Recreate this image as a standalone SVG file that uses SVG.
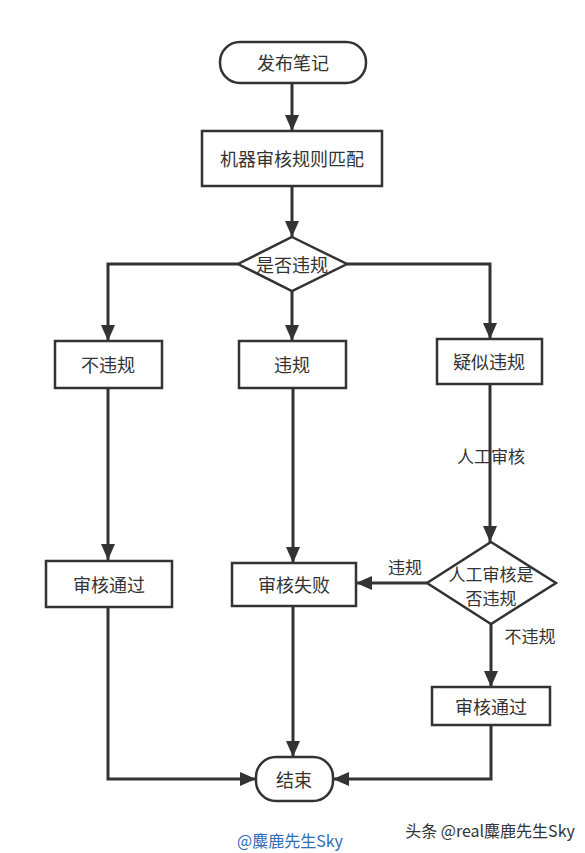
<svg xmlns="http://www.w3.org/2000/svg" width="585" height="853" viewBox="0 0 585 853">
<style>
.n{fill:#fff;stroke:#333;stroke-width:2.5}
.t{font-family:"Noto Sans CJK SC","Noto Sans",sans-serif;font-size:18px;fill:#333;text-anchor:middle;dominant-baseline:central}
.l{font-family:"Noto Sans CJK SC","Noto Sans",sans-serif;font-size:17px;fill:#333;text-anchor:middle;dominant-baseline:central}
.c{fill:none;stroke:#333;stroke-width:3}
</style>
<defs>
<marker id="a" markerUnits="userSpaceOnUse" markerWidth="16" markerHeight="14" viewBox="0 0 16 14" refX="16" refY="7" orient="auto">
<path d="M0,0 L16,7 L0,14 Z" fill="#333"/>
</marker>
</defs>
<rect width="585" height="853" fill="#fff"/>
<g id="connectors">
<path class="c" d="M292,83 V131" marker-end="url(#a)"/>
<path class="c" d="M292,186 V237" marker-end="url(#a)"/>
<path class="c" d="M238,264 H108 V341" marker-end="url(#a)"/>
<path class="c" d="M292,291 V341" marker-end="url(#a)"/>
<path class="c" d="M347,264 H490 V339" marker-end="url(#a)"/>
<path class="c" d="M108,388 V560" marker-end="url(#a)"/>
<path class="c" d="M293,388 V563" marker-end="url(#a)"/>
<path class="c" d="M490,384 V542" marker-end="url(#a)"/>
<path class="c" d="M427,583 H356" marker-end="url(#a)"/>
<path class="c" d="M491,624 V687" marker-end="url(#a)"/>
<path class="c" d="M108,607 V779 H256" marker-end="url(#a)"/>
<path class="c" d="M293,606 V757" marker-end="url(#a)"/>
<path class="c" d="M491,725 V779 H333" marker-end="url(#a)"/>
<text class="l" x="491" y="455">人工审核</text>
<text class="l" x="405" y="566">违规</text>
<text class="l" x="530" y="635">不违规</text>
</g>
<g id="start"><rect class="n" x="220" y="42" width="146" height="41" rx="20"/><text class="t" x="293" y="62">发布笔记</text></g>
<g id="match"><rect class="n" x="202" y="131" width="180" height="55"/><text class="t" x="292" y="158">机器审核规则匹配</text></g>
<g id="decide"><polygon class="n" points="292,237 347,264 292,291 238,264"/><text class="t" x="292" y="264">是否违规</text></g>
<g id="ok"><rect class="n" x="55" y="341" width="107" height="47"/><text class="t" x="108" y="364">不违规</text></g>
<g id="bad"><rect class="n" x="239" y="341" width="107" height="47"/><text class="t" x="292" y="364">违规</text></g>
<g id="suspect"><rect class="n" x="437" y="339" width="105" height="45"/><text class="t" x="489" y="361">疑似违规</text></g>
<g id="pass1"><rect class="n" x="46" y="561" width="126" height="46"/><text class="t" x="109" y="584">审核通过</text></g>
<g id="fail"><rect class="n" x="232" y="563" width="124" height="43"/><text class="t" x="294" y="584">审核失败</text></g>
<g id="manual"><polygon class="n" points="491,542 556,583 491,624 427,583"/><text class="t" x="491" y="573" style="font-size:17px">人工审核是</text><text class="t" x="491" y="597" style="font-size:17px">否违规</text></g>
<g id="pass2"><rect class="n" x="432" y="687" width="118" height="38"/><text class="t" x="491" y="706">审核通过</text></g>
<g id="end"><rect class="n" x="256" y="757" width="77" height="44" rx="20"/><text class="t" x="294" y="779">结束</text></g>
<text x="290" y="840" font-family="'Noto Sans CJK SC',sans-serif" font-size="16" fill="#2f6db5" text-anchor="middle" dominant-baseline="central">@麋鹿先生Sky</text>
<text x="490" y="830" font-family="'Noto Sans CJK SC',sans-serif" font-size="16" fill="#333" text-anchor="middle" dominant-baseline="central">头条 @real麋鹿先生Sky</text>
</svg>
